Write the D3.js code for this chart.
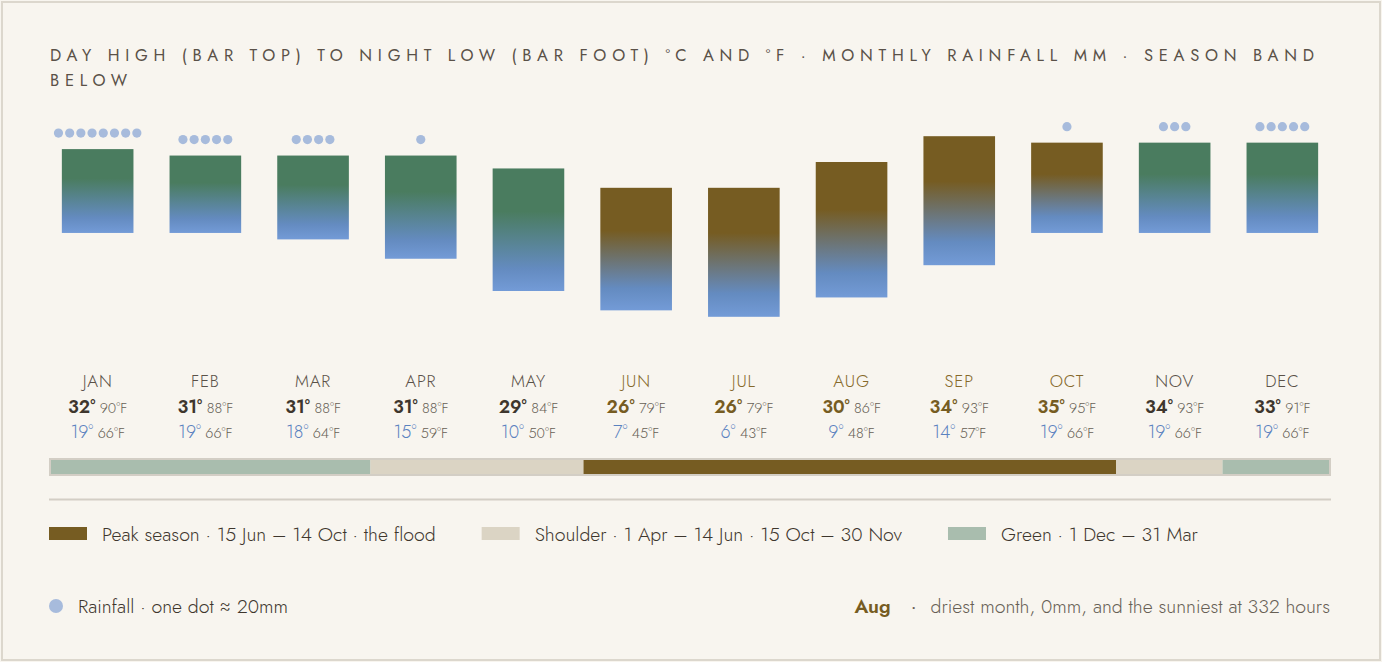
<!DOCTYPE html>
<html>
<head>
<meta charset="utf-8">
<script src="https://cdn.jsdelivr.net/npm/d3@7"></script>
<style>
  html, body { margin: 0; padding: 0; background: #f8f5ef; }
  svg { display: block; font-family: Jost, Lato, "Open Sans", sans-serif; }
</style>
</head>
<body>
<div id="vis"></div>
<script>
// monthly climate
const months = ['JAN','FEB','MAR','APR','MAY','JUN','JUL','AUG','SEP','OCT','NOV','DEC']
const highC = [32, 31, 31, 31, 29, 26, 26, 30, 34, 35, 34, 33]
const highF = [90, 88, 88, 88, 84, 79, 79, 86, 93, 95, 93, 91]
const lowC = [19, 19, 18, 15, 10, 7, 6, 9, 14, 19, 19, 19]
const lowF = [66, 66, 64, 59, 50, 45, 43, 48, 57, 66, 66, 66]
// bar tops as they are drawn (Oct / Nov sit lower than their labels)
const barHighC = [32, 31, 31, 31, 29, 26, 26, 30, 34, 33, 33, 33]
const rainMm = [165, 105, 80, 25, 5, 0, 0, 0, 2, 18, 60, 98]
const monthSeason = ['green','green','green','shoulder','shoulder','peak','peak','peak','peak','peak','shoulder','green']

const seasons = ['peak', 'shoulder', 'green']
const seasonLabels = [
  'Peak season · 15 Jun – 14 Oct · the flood',
  'Shoulder · 1 Apr – 14 Jun · 15 Oct – 30 Nov',
  'Green · 1 Dec – 31 Mar'
]
const titleLines = [
  'DAY HIGH (BAR TOP) TO NIGHT LOW (BAR FOOT) °C AND °F · MONTHLY RAINFALL MM · SEASON BAND',
  'BELOW'
]
const mmPerDot = 20

const W = 1382, H = 662
const brown = '#765c22', green = '#4a7c5f', blue = '#739bd7'
const bandColor = { peak: '#765c22', shoulder: '#dbd4c4', green: '#a9bdae' }
const ink = '#3e362d', muted = '#675f55', coolText = '#5b82bf'
const legendSize = 19.5

let svg = d3.select('#vis').append('svg')
  .attr('width', W)
  .attr('height', H)

svg.append('rect') // card
  .attr('x', 2).attr('y', 2)
  .attr('width', W - 4).attr('height', H - 4)
  .attr('fill', '#f8f5ef')
  .attr('stroke', '#dcd7cd')
  .attr('stroke-width', 2)

// title, spaced out so the first line ends where the reference does
let title = svg.append('g')
let t1 = title.append('text')
  .attr('x', 50).attr('y', 61)
  .attr('font-size', 16.5)
  .attr('font-weight', 400)
  .attr('fill', '#5a5148')
  .text(titleLines[0])
let natural = t1.node().getComputedTextLength()
let spacing = (1314 - 50 - natural) / (titleLines[0].length - 1)
t1.attr('letter-spacing', spacing)
title.append('text')
  .attr('x', 50).attr('y', 86)
  .attr('font-size', 16.5)
  .attr('fill', '#5a5148')
  .attr('letter-spacing', spacing)
  .text(titleLines[1])

let x = d3.scaleBand()
  .domain(months)
  .range([50, 1330])
  .paddingInner(0.335)
  .paddingOuter(0.11)

let y = d3.scaleLinear()
  .domain([0, 40])
  .range([355.5, 97.5])

// gradients, one per bar top colour
let defs = svg.append('defs')
;[['grad-green', green], ['grad-peak', brown]].forEach(([id, top]) => {
  let g = defs.append('linearGradient')
    .attr('id', id)
    .attr('x1', 0).attr('y1', 0).attr('x2', 0).attr('y2', 1)
  g.append('stop').attr('offset', 0).attr('stop-color', top)
  g.append('stop').attr('offset', 0.35).attr('stop-color', top)
  g.append('stop').attr('offset', 0.82).attr('stop-color', '#648bc0')
  g.append('stop').attr('offset', 1).attr('stop-color', blue)
})

let bars = svg.append('g')
bars.selectAll('rect')
  .data(months)
  .join('rect')
  .attr('x', d => x(d))
  .attr('width', x.bandwidth())
  .attr('y', (d, i) => y(barHighC[i]))
  .attr('height', (d, i) => y(lowC[i]) - y(barHighC[i]))
  .attr('fill', (d, i) => monthSeason[i] == 'peak' ? 'url(#grad-peak)' : 'url(#grad-green)')

// rainfall dots above each bar
let dots = svg.append('g')
months.forEach((m, i) => {
  let n = Math.round(rainMm[i] / mmPerDot)
  let cx = x(m) + x.bandwidth() / 2
  let cy = y(barHighC[i]) - 16
  d3.range(n).forEach(k => {
    dots.append('circle')
      .attr('cx', cx + (k - (n - 1) / 2) * 11.2)
      .attr('cy', cy)
      .attr('r', 4.6)
      .attr('fill', '#a7bbdc')
  })
})

// month labels and temperatures
let labels = svg.append('g').attr('text-anchor', 'middle')
months.forEach((m, i) => {
  let cx = x(m) + x.bandwidth() / 2
  let isPeak = monthSeason[i] == 'peak'
  labels.append('text')
    .attr('x', cx).attr('y', 387)
    .attr('font-size', 17)
    .attr('font-weight', 300)
    .attr('letter-spacing', 0.8)
    .attr('fill', isPeak ? '#86692a' : '#5a5148')
    .text(m)
  let hi = labels.append('text').attr('x', cx).attr('y', 413)
  hi.append('tspan')
    .attr('font-size', 18).attr('font-weight', 600)
    .attr('fill', isPeak ? brown : ink)
    .text(highC[i] + '°')
  hi.append('tspan')
    .attr('font-size', 14.5).attr('font-weight', 300)
    .attr('fill', muted)
    .text(' ' + highF[i] + '°F')
  let lo = labels.append('text').attr('x', cx).attr('y', 438)
  lo.append('tspan')
    .attr('font-size', 18).attr('font-weight', 300)
    .attr('fill', coolText)
    .text(lowC[i] + '°')
  lo.append('tspan')
    .attr('font-size', 14.5).attr('font-weight', 300)
    .attr('fill', muted)
    .text(' ' + lowF[i] + '°F')
})

// season band, consecutive months merged into runs
let sx = d3.scaleBand().domain(months).range([51, 1329])
let runs = []
monthSeason.forEach((s, i) => {
  let last = runs[runs.length - 1]
  if (last && last.season == s) last.end = i
  else runs.push({ season: s, start: i, end: i })
})
svg.append('rect')
  .attr('x', 50).attr('y', 459)
  .attr('width', 1280).attr('height', 16)
  .attr('fill', 'none')
  .attr('stroke', '#d3cec5')
  .attr('stroke-width', 2)
svg.append('g').selectAll('rect')
  .data(runs)
  .join('rect')
  .attr('x', d => sx(months[d.start]))
  .attr('width', d => sx(months[d.end]) + sx.bandwidth() - sx(months[d.start]))
  .attr('y', 460)
  .attr('height', 14)
  .attr('fill', d => bandColor[d.season])

svg.append('line')
  .attr('x1', 49).attr('x2', 1331)
  .attr('y1', 499.5).attr('y2', 499.5)
  .attr('stroke', '#d3cec5')
  .attr('stroke-width', 2)

// legend row: swatch + label, laid out left to right
let legend = svg.append('g')
let lx = 49
seasons.forEach((s, i) => {
  legend.append('rect')
    .attr('x', lx).attr('y', 527)
    .attr('width', 38).attr('height', 13)
    .attr('fill', bandColor[s])
  let t = legend.append('text')
    .attr('x', lx + 53).attr('y', 541)
    .attr('font-size', legendSize).attr('font-weight', 300)
    .attr('fill', ink)
    .text(seasonLabels[i])
  lx = lx + 53 + t.node().getComputedTextLength() + 46
})

legend.append('circle')
  .attr('cx', 56).attr('cy', 606)
  .attr('r', 7)
  .attr('fill', '#a7bbdc')
legend.append('text')
  .attr('x', 78).attr('y', 613)
  .attr('font-size', legendSize).attr('font-weight', 300)
  .attr('fill', ink)
  .text('Rainfall · one dot ≈ ' + mmPerDot + 'mm')

// note on the right
let driest = d3.minIndex(rainMm)
let note = legend.append('text')
  .attr('x', 1330).attr('y', 613)
  .attr('text-anchor', 'end')
  .attr('font-size', legendSize).attr('font-weight', 300)
  .attr('fill', muted)
  .text('driest month, ' + rainMm[driest] + 'mm, and the sunniest at 332 hours')
let noteStart = 1330 - note.node().getComputedTextLength()
legend.append('text')
  .attr('x', noteStart - 17).attr('y', 613)
  .attr('text-anchor', 'middle')
  .attr('font-size', legendSize).attr('fill', muted)
  .text('·')
legend.append('text')
  .attr('x', noteStart - 40).attr('y', 613)
  .attr('text-anchor', 'end')
  .attr('font-size', legendSize).attr('font-weight', 600)
  .attr('fill', brown)
  .text('Aug')
</script>
</body>
</html>
